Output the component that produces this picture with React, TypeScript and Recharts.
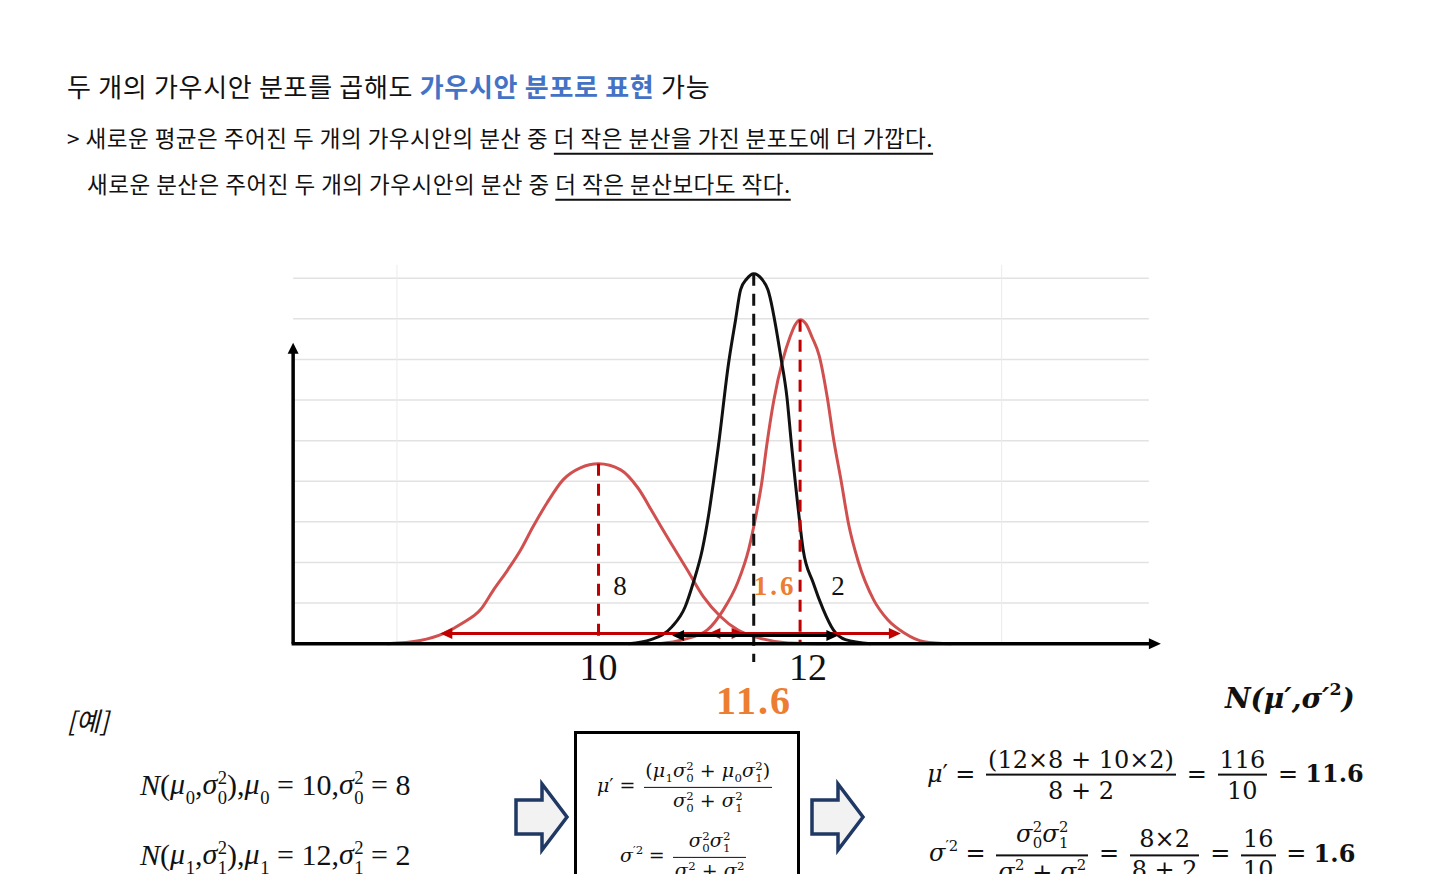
import React from 'react'
import { LineChart, Line, XAxis, YAxis, ReferenceLine } from 'recharts'

// curve heights (x value, height in grid units)
const wideX = [7.9, 8.23, 8.46, 8.66, 8.83, 8.96, 9.1, 9.23, 9.35, 9.49, 9.65, 9.82, 10.0, 10.22, 10.39, 10.55, 10.71, 10.88, 11.04, 11.21, 11.38, 11.58, 11.88, 12.3]
const wideY = [0.0, 0.08, 0.25, 0.52, 0.84, 1.33, 1.82, 2.32, 2.88, 3.47, 4.04, 4.33, 4.43, 4.28, 3.84, 3.18, 2.51, 1.82, 1.16, 0.67, 0.34, 0.15, 0.02, 0.0]

const narrowX = [10.6, 10.84, 11.08, 11.24, 11.38, 11.49, 11.56, 11.62, 11.67, 11.74, 11.83, 11.9, 11.95, 12.0, 12.06, 12.12, 12.19, 12.27, 12.33, 12.41, 12.48, 12.58, 12.73, 12.87, 13.03, 13.23, 13.5]
const narrowY = [0.0, 0.1, 0.34, 0.84, 1.5, 2.32, 3.13, 3.97, 4.9, 6.0, 7.0, 7.55, 7.85, 7.98, 7.87, 7.54, 7.09, 6.06, 5.07, 3.97, 2.96, 2.0, 1.08, 0.59, 0.27, 0.05, 0.0]

const prodX = [10.3, 10.52, 10.73, 10.86, 10.94, 11.03, 11.09, 11.14, 11.19, 11.29, 11.36, 11.41, 11.47, 11.54, 11.62, 11.68, 11.81, 11.87, 11.91, 11.99, 12.03, 12.13, 12.23, 12.33, 12.45, 12.7]
const prodY = [0.0, 0.1, 0.42, 0.91, 1.5, 2.32, 3.13, 3.97, 4.88, 6.9, 7.98, 8.72, 8.98, 9.11, 8.98, 8.72, 7.04, 6.06, 5.02, 3.13, 2.32, 1.5, 0.84, 0.34, 0.1, 0.0]

// means (as drawn) with their peak heights
const meanX = [10, 12, 11.54]
const meanTop = [4.43, 7.98, 9.11]

// spread arrows: [from, to]
const wideSpan = [8.43, 11.44]
const narrowSpan = [11.09, 13.0]
const prodSpan = [10.73, 12.38]

const xTicks = [10, 12]
const gridY = [1, 2, 3, 4, 5, 6, 7, 8, 9]
const gridX = [8, 14]

const wideData = wideX.map((x, i) => ({ x, y: wideY[i] }))
const narrowData = narrowX.map((x, i) => ({ x, y: narrowY[i] }))
const prodData = prodX.map((x, i) => ({ x, y: prodY[i] }))

const RED = '#c00000'
const CURVE_RED = '#d0504f'
const ORANGE = '#ed7d31'
const serif = '"Liberation Serif", "DejaVu Serif", serif'
const math = '"DejaVu Serif", serif'
const kr = '"Noto Sans CJK KR", "Noto Sans", sans-serif'

function arrowShape(color: string, w: number, head: number, half: number, both: boolean) {
  return (p: any) => {
    const { x1, y1, x2, y2 } = p
    const dx = x2 - x1, dy = y2 - y1
    const len = Math.hypot(dx, dy) || 1
    const ux = dx / len, uy = dy / len
    const tri = (tx: number, ty: number, sx: number, sy: number) => {
      const bx = tx - sx * head, by = ty - sy * head
      return `${tx},${ty} ${bx - sy * half},${by + sx * half} ${bx + sy * half},${by - sx * half}`
    }
    const s = both ? head * 0.8 : 0
    return (
      <g>
        <line x1={x1 + ux * s} y1={y1 + uy * s} x2={x2 - ux * head * 0.8} y2={y2 - uy * head * 0.8} stroke={color} strokeWidth={w} />
        <polygon points={tri(x2, y2, ux, uy)} fill={color} />
        {both && <polygon points={tri(x1, y1, -ux, -uy)} fill={color} />}
      </g>
    )
  }
}

function At({ x, y, center, style, children }: any) {
  return (
    <div style={{
      position: 'absolute', left: x, top: y, whiteSpace: 'nowrap', lineHeight: 1,
      transform: center ? 'translate(-50%, -50%)' : 'translateY(-50%)', ...style,
    }}>{children}</div>
  )
}

// base letter with stacked sup / sub scripts
function S({ b, sup, sub, it = true }: any) {
  const base = <span style={{ fontStyle: it ? 'italic' : 'normal' }}>{b}</span>
  if (!sub) {
    return <span>{base}<span style={{ fontSize: '0.62em', verticalAlign: '0.7em', fontStyle: 'normal' }}>{sup}</span></span>
  }
  return (
    <span>
      {base}
      <span style={{ display: 'inline-block', verticalAlign: 'middle', fontSize: '0.62em', lineHeight: 1.05, textAlign: 'left', fontStyle: 'normal', marginLeft: '0.03em' }}>
        <span style={{ display: 'block' }}>{sup ?? '\u00a0'}</span>
        <span style={{ display: 'block' }}>{sub}</span>
      </span>
    </span>
  )
}

function Frac({ n, d, lw = 2 }: any) {
  return (
    <span style={{ display: 'inline-block', verticalAlign: 'middle', textAlign: 'center', margin: '0 0.15em' }}>
      <span style={{ display: 'block', padding: '0 0.08em 0.1em' }}>{n}</span>
      <span style={{ display: 'block', borderTop: `${lw}px solid #111`, padding: '0.1em 0.08em 0' }}>{d}</span>
    </span>
  )
}

const Eq = () => <span style={{ margin: '0 0.3em' }}>=</span>

function BlockArrow({ x }: { x: number }) {
  const pts = [
    [x, 800], [x + 26, 800], [x + 26, 784], [x + 51, 817], [x + 26, 850], [x + 26, 834], [x, 834],
  ].map(p => p.join(',')).join(' ')
  return <polygon points={pts} fill="#f2f2f2" stroke="#1f3864" strokeWidth={3.5} strokeLinejoin="miter" />
}

function Chart() {
  const tick = (p: any) => (
    <text x={p.x + (p.payload.value === 12 ? 8 : 0)} y={p.y} dy={16} textAnchor="middle" fontSize={38} fontFamily={serif} fill="#111">
      {p.payload.value}
    </text>
  )
  return (
    <LineChart width={897} height={450} margin={{ top: 0, right: 0, bottom: 0, left: 0 }}>
      <XAxis dataKey="x" type="number" domain={[6.8, 15.7]} ticks={xTicks} interval={0} allowDataOverflow
        axisLine={false} tickLine={false} tickSize={0} tickMargin={0} height={50} tick={tick} />
      <YAxis type="number" domain={[-0.5, 9.35]} hide allowDataOverflow />

      {gridY.map(v => (
        <ReferenceLine key={'gy' + v} segment={[{ x: 6.97, y: v }, { x: 15.46, y: v }]} stroke="#e2e2e2" strokeWidth={1.5} />
      ))}
      {gridX.map(v => (
        <ReferenceLine key={'gx' + v} segment={[{ x: v, y: 0 }, { x: v, y: 9.33 }]} stroke="#ebebeb" strokeWidth={1} />
      ))}

      <Line data={wideData} dataKey="y" type="monotone" stroke={CURVE_RED} strokeWidth={3} dot={false} activeDot={false} isAnimationActive={false} />
      <Line data={narrowData} dataKey="y" type="monotone" stroke={CURVE_RED} strokeWidth={3} dot={false} activeDot={false} isAnimationActive={false} />
      <Line data={prodData} dataKey="y" type="monotone" stroke="#111" strokeWidth={3} dot={false} activeDot={false} isAnimationActive={false} />

      <ReferenceLine segment={[{ x: meanX[0], y: meanTop[0] }, { x: meanX[0], y: 0 }]} stroke={RED} strokeWidth={3} strokeDasharray="12 8" />
      <ReferenceLine segment={[{ x: meanX[1], y: meanTop[1] }, { x: meanX[1], y: 0 }]} stroke={RED} strokeWidth={3} strokeDasharray="12 8" />
      <ReferenceLine segment={[{ x: meanX[2], y: meanTop[2] }, { x: meanX[2], y: -0.45 }]} stroke="#111" strokeWidth={3} strokeDasharray="12 8" />

      <ReferenceLine segment={[{ x: wideSpan[0], y: 0.25 }, { x: wideSpan[1], y: 0.25 }]} shape={arrowShape(RED, 3, 12, 5.5, true)} />
      <ReferenceLine segment={[{ x: narrowSpan[0], y: 0.25 }, { x: narrowSpan[1], y: 0.25 }]} shape={arrowShape(RED, 3, 12, 5.5, true)} />
      <ReferenceLine segment={[{ x: prodSpan[0], y: 0.2 }, { x: prodSpan[1], y: 0.2 }]} shape={arrowShape('#000', 3, 12, 5.5, true)} />

      <ReferenceLine segment={[{ x: 6.955, y: 0 }, { x: 15.58, y: 0 }]} shape={arrowShape('#000', 3.5, 12, 5.5, false)} />
      <ReferenceLine segment={[{ x: 6.97, y: 0 }, { x: 6.97, y: 7.41 }]} shape={arrowShape('#000', 3.5, 11, 5.5, false)} />
    </LineChart>
  )
}

const ul = { textDecoration: 'underline', textDecorationThickness: 2, textUnderlineOffset: 6 }

export default function App() {
  return (
    <div style={{ position: 'absolute', left: 0, top: 0, width: 1440, height: 874, overflow: 'hidden', background: '#fff', color: '#111' }}>
      <At x={67} y={86} style={{ fontFamily: kr, fontSize: 26, letterSpacing: 0.7 }}>
        두 개의 가우시안 분포를 곱해도 <b style={{ color: '#4472c4' }}>가우시안 분포로 표현</b> 가능
      </At>
      <At x={67} y={137} style={{ fontFamily: kr, fontSize: 22.5, letterSpacing: 0.5 }}>
        &gt; 새로운 평균은 주어진 두 개의 가우시안의 분산 중{' '}
        <span style={ul}>더 작은 분산을 가진 분포도에 더 가깝다.</span>
      </At>
      <At x={87} y={183} style={{ fontFamily: kr, fontSize: 22.5, letterSpacing: 0.5 }}>
        새로운 분산은 주어진 두 개의 가우시안의 분산 중{' '}
        <span style={ul}>더 작은 분산보다도 작다.</span>
      </At>

      <div style={{ position: 'absolute', left: 276, top: 264 }}>
        <Chart />
      </div>

      <At x={620} y={586} center style={{ fontFamily: serif, fontSize: 27 }}>8</At>
      <At x={775} y={586} center style={{ fontFamily: serif, fontSize: 27, fontWeight: 700, color: ORANGE, letterSpacing: 3 }}>1.6</At>
      <At x={838} y={586} center style={{ fontFamily: serif, fontSize: 27 }}>2</At>
      <At x={754} y={701} center style={{ fontFamily: serif, fontSize: 40, fontWeight: 700, color: ORANGE, letterSpacing: 2 }}>11.6</At>

      <At x={67} y={720} style={{ fontFamily: kr, fontSize: 26, fontStyle: 'italic' }}>[예]</At>

      <At x={140} y={788} style={{ fontFamily: serif, fontSize: 30 }}>
        <i>N</i>(<S b="μ" sub="0" />,<S b="σ" sup="2" sub="0" />),<S b="μ" sub="0" /> = 10,<S b="σ" sup="2" sub="0" /> = 8
      </At>
      <At x={140} y={858} style={{ fontFamily: serif, fontSize: 30 }}>
        <i>N</i>(<S b="μ" sub="1" />,<S b="σ" sup="2" sub="1" />),<S b="μ" sub="1" /> = 12,<S b="σ" sup="2" sub="1" /> = 2
      </At>

      <svg width={1440} height={874} style={{ position: 'absolute', left: 0, top: 0, pointerEvents: 'none' }}>
        <BlockArrow x={516} />
        <BlockArrow x={812} />
      </svg>

      <div style={{ position: 'absolute', left: 574, top: 731, width: 226, height: 170, border: '3.5px solid #000', boxSizing: 'border-box' }} />
      <At x={597} y={787} style={{ fontFamily: math, fontSize: 19 }}>
        <i>μ</i>′<Eq /><Frac lw={1.5} n={<span>(<S b="μ" sub="1" /><S b="σ" sup="2" sub="0" /> + <S b="μ" sub="0" /><S b="σ" sup="2" sub="1" />)</span>} d={<span><S b="σ" sup="2" sub="0" /> + <S b="σ" sup="2" sub="1" /></span>} />
      </At>
      <At x={620} y={857} style={{ fontFamily: math, fontSize: 19 }}>
        <S b="σ" sup="′2" /><Eq /><Frac lw={1.5} n={<span><S b="σ" sup="2" sub="0" /><S b="σ" sup="2" sub="1" /></span>} d={<span><S b="σ" sup="2" sub="0" /> + <S b="σ" sup="2" sub="1" /></span>} />
      </At>

      <At x={1225} y={697} style={{ fontFamily: math, fontSize: 28, fontWeight: 700, fontStyle: 'italic' }}>
        N(μ′,σ′<span style={{ fontSize: '0.62em', verticalAlign: '0.7em', fontStyle: 'normal' }}>2</span>)
      </At>
      <At x={927} y={775} style={{ fontFamily: math, fontSize: 24 }}>
        <i>μ</i>′<Eq /><Frac n="(12×8 + 10×2)" d="8 + 2" /><Eq /><Frac n="116" d="10" /><Eq /><b>11.6</b>
      </At>
      <At x={929} y={855} style={{ fontFamily: math, fontSize: 24 }}>
        <S b="σ" sup="′2" /><Eq /><Frac n={<span><S b="σ" sup="2" sub="0" /><S b="σ" sup="2" sub="1" /></span>} d={<span><S b="σ" sup="2" sub="0" /> + <S b="σ" sup="2" sub="1" /></span>} /><Eq /><Frac n="8×2" d="8 + 2" /><Eq /><Frac n="16" d="10" /><Eq /><b>1.6</b>
      </At>
    </div>
  )
}
